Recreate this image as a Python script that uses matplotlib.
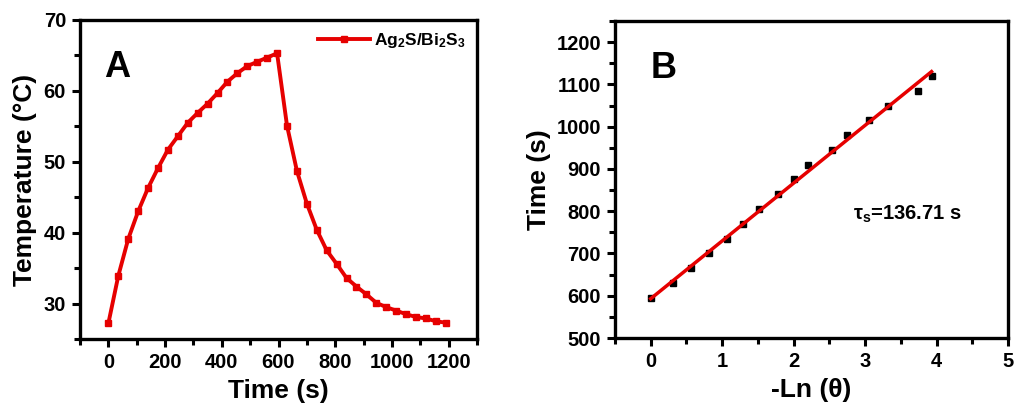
import matplotlib
matplotlib.use("Agg")
import matplotlib.pyplot as plt
import numpy as np
from matplotlib.ticker import MultipleLocator

plt.rcParams['font.family'] = ['Liberation Sans', 'DejaVu Sans']
plt.rcParams['font.weight'] = 'bold'
plt.rcParams['mathtext.default'] = 'regular'

# Panel A data
time_a = [0, 35, 70, 105, 140, 175, 210, 245, 280, 315, 350, 385, 420, 455, 490, 525, 560, 595,
          630, 665, 700, 735, 770, 805, 840, 875, 910, 945, 980, 1015, 1050, 1085, 1120, 1155, 1190]
temp_a = [27.2, 33.9, 39.1, 43.0, 46.3, 49.1, 51.7, 53.6, 55.5, 56.9, 58.2, 59.7, 61.3, 62.5, 63.5, 64.1, 64.7, 65.3,
          55.1, 48.7, 44.1, 40.4, 37.5, 35.6, 33.6, 32.4, 31.3, 30.1, 29.5, 29.0, 28.5, 28.1, 27.9, 27.5, 27.3]
legend_label = r'Ag$_2$S/Bi$_2$S$_3$'

# Panel B data
lnx_b = [0, 0.313, 0.570, 0.813, 1.061, 1.295, 1.52, 1.776, 2.0, 2.20, 2.53, 2.75, 3.05, 3.32, 3.74, 3.94]
time_b = [595, 630, 665, 700, 735, 770, 805, 840, 875, 910, 945, 980, 1015, 1050, 1085, 1120]
tau_s = 136.71
fit_intercept = 593.0
fit_x_range = [0, 3.93]

red = '#e60000'

fig = plt.figure(figsize=(10.16, 4.12), dpi=100)
W, H = 1016, 412
axA = fig.add_axes([80 / W, (H - 339) / H, 397 / W, 319 / H])
axB = fig.add_axes([615 / W, (H - 338) / H, 393 / W, 317 / H])

def style(ax):
    for s in ax.spines.values():
        s.set_linewidth(2.4)
    ax.tick_params(which='major', direction='out', length=6, width=2.2, labelsize=14.5, pad=4,
                   top=False, right=False)
    ax.tick_params(which='minor', direction='out', length=4, width=2.2, top=False, right=False)
    for lab in ax.get_xticklabels() + ax.get_yticklabels():
        lab.set_fontweight('bold')

# Panel A
axA.plot(time_a, temp_a, color=red, lw=2.8, marker='s', ms=4.5, label=legend_label)
axA.set_xlim(-100, 1300)
axA.set_ylim(25, 70)
axA.set_xticks([0, 200, 400, 600, 800, 1000, 1200])
axA.xaxis.set_minor_locator(MultipleLocator(100))
axA.set_yticks([30, 40, 50, 60, 70])
axA.yaxis.set_minor_locator(MultipleLocator(5))
style(axA)
axA.set_xlabel('Time (s)', fontsize=19, fontweight='bold', labelpad=5)
axA.set_ylabel('Temperature (°C)', fontsize=19, fontweight='bold', labelpad=5)
axA.text(0.06, 0.82, 'A', transform=axA.transAxes, fontsize=26, fontweight='bold')
axA.legend(loc='upper right', frameon=False, handlelength=3.0,
           borderaxespad=0.25, handletextpad=0.25, prop={'weight': 'bold', 'size': 12.5})

# Panel B
axB.plot(lnx_b, time_b, ls='none', marker='s', ms=5, color='black')
fx = np.array(fit_x_range)
axB.plot(fx, fit_intercept + tau_s * fx, color=red, lw=2.5)
axB.set_xlim(-0.5, 5)
axB.set_ylim(500, 1250)
axB.set_xticks([0, 1, 2, 3, 4, 5])
axB.xaxis.set_minor_locator(MultipleLocator(0.5))
axB.set_yticks([500, 600, 700, 800, 900, 1000, 1100, 1200])
axB.yaxis.set_minor_locator(MultipleLocator(50))
style(axB)
axB.set_xlabel('-Ln (θ)', fontsize=19, fontweight='bold', labelpad=5)
axB.set_ylabel('Time (s)', fontsize=19, fontweight='bold', labelpad=4)
axB.text(0.09, 0.82, 'B', transform=axB.transAxes, fontsize=26, fontweight='bold')
axB.text(0.605, 0.39, r'τ$_s$=%.2f s' % tau_s, transform=axB.transAxes, fontsize=14.5,
         fontweight='bold', va='center')

fig.savefig('out.png', dpi=100)
